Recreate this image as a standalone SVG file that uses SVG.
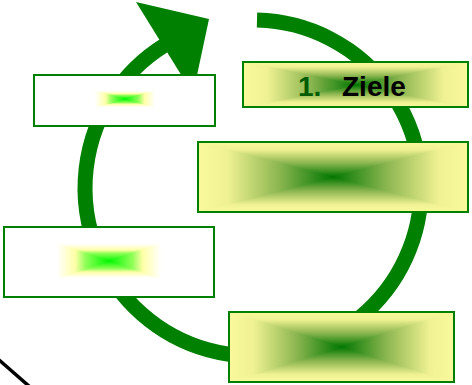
<svg xmlns="http://www.w3.org/2000/svg" width="472" height="385" viewBox="0 0 472 385">
  <defs>
    <!-- rectangular "box" shading built from four triangles: yellow rim to dark green core -->
    <linearGradient id="yT" x1="0" y1="0" x2="0" y2="1"><stop offset="0" stop-color="#fafa9c"/><stop offset="0.22" stop-color="#eff192"/><stop offset="0.6" stop-color="#8cb650"/><stop offset="1" stop-color="#017701"/></linearGradient>
    <linearGradient id="yB" x1="0" y1="1" x2="0" y2="0"><stop offset="0" stop-color="#fafa9c"/><stop offset="0.22" stop-color="#eff192"/><stop offset="0.6" stop-color="#8cb650"/><stop offset="1" stop-color="#017701"/></linearGradient>
    <linearGradient id="yL" x1="0" y1="0" x2="1" y2="0"><stop offset="0" stop-color="#fafa9c"/><stop offset="0.22" stop-color="#eff192"/><stop offset="0.6" stop-color="#8cb650"/><stop offset="1" stop-color="#017701"/></linearGradient>
    <linearGradient id="yR" x1="1" y1="0" x2="0" y2="0"><stop offset="0" stop-color="#fafa9c"/><stop offset="0.22" stop-color="#eff192"/><stop offset="0.6" stop-color="#8cb650"/><stop offset="1" stop-color="#017701"/></linearGradient>
    <!-- small glow inside the white boxes: white rim, yellow, lime core -->
    <linearGradient id="gT" x1="0" y1="0" x2="0" y2="1"><stop offset="0" stop-color="#ffffff"/><stop offset="0.35" stop-color="#ffffa8"/><stop offset="0.55" stop-color="#90ff58"/><stop offset="1" stop-color="#00f800"/></linearGradient>
    <linearGradient id="gB" x1="0" y1="1" x2="0" y2="0"><stop offset="0" stop-color="#ffffff"/><stop offset="0.35" stop-color="#ffffa8"/><stop offset="0.55" stop-color="#90ff58"/><stop offset="1" stop-color="#00f800"/></linearGradient>
    <linearGradient id="gL" x1="0" y1="0" x2="1" y2="0"><stop offset="0" stop-color="#ffffff"/><stop offset="0.35" stop-color="#ffffa8"/><stop offset="0.55" stop-color="#90ff58"/><stop offset="1" stop-color="#00f800"/></linearGradient>
    <linearGradient id="gR" x1="1" y1="0" x2="0" y2="0"><stop offset="0" stop-color="#ffffff"/><stop offset="0.35" stop-color="#ffffa8"/><stop offset="0.55" stop-color="#90ff58"/><stop offset="1" stop-color="#00f800"/></linearGradient>
  </defs>
  <style>
    .frame { fill: none; stroke: #008000; stroke-width: 2; }
    .plain { fill: #ffffff; stroke: #008000; stroke-width: 2; }
    .cycle { fill: none; stroke: #008000; stroke-width: 15; }
    .head { fill: #008000; }
    .t { stroke-width: 1; stroke-linejoin: round; }
    .label { font-family: "Liberation Sans", Arial, sans-serif; font-weight: bold; font-size: 28px; }
  </style>

  <rect width="472" height="385" fill="#ffffff"/>

  <!-- circular cycle arrow -->
  <g id="connectors">
    <path class="cycle" d="M 257 20.05 A 168 168 0 1 1 173 40.3"/>
    <polygon class="head" points="136,2 209,19 193,94"/>
  </g>

  <g id="box-a">
    <rect class="plain" x="34" y="75" width="181" height="51"/>
    <polygon class="t" fill="url(#gT)" stroke="url(#gT)" points="95,91 155,91 125,99"/>
    <polygon class="t" fill="url(#gB)" stroke="url(#gB)" points="95,107 155,107 125,99"/>
    <polygon class="t" fill="url(#gL)" stroke="url(#gL)" points="95,91 95,107 125,99"/>
    <polygon class="t" fill="url(#gR)" stroke="url(#gR)" points="155,91 155,107 125,99"/>
  </g>

  <g id="box-ziele">
    <polygon class="t" fill="url(#yT)" stroke="url(#yT)" points="243,62 468,62 355.5,85"/>
    <polygon class="t" fill="url(#yB)" stroke="url(#yB)" points="243,107 468,107 355.5,85"/>
    <polygon class="t" fill="url(#yL)" stroke="url(#yL)" points="243,62 243,107 355.5,85"/>
    <polygon class="t" fill="url(#yR)" stroke="url(#yR)" points="468,62 468,107 355.5,85"/>
    <rect class="frame" x="243" y="62" width="225" height="45"/>
    <text class="label" y="96"><tspan x="298" fill="#005c00">1.</tspan><tspan x="342" fill="#000000">Ziele</tspan></text>
  </g>

  <g id="box-c">
    <polygon class="t" fill="url(#yT)" stroke="url(#yT)" points="198,142 468,142 333,177"/>
    <polygon class="t" fill="url(#yB)" stroke="url(#yB)" points="198,212 468,212 333,177"/>
    <polygon class="t" fill="url(#yL)" stroke="url(#yL)" points="198,142 198,212 333,177"/>
    <polygon class="t" fill="url(#yR)" stroke="url(#yR)" points="468,142 468,212 333,177"/>
    <rect class="frame" x="198" y="142" width="270" height="70"/>
  </g>

  <g id="box-d">
    <rect class="plain" x="4" y="227" width="210" height="70"/>
    <polygon class="t" fill="url(#gT)" stroke="url(#gT)" points="57,244 161,244 109,261"/>
    <polygon class="t" fill="url(#gB)" stroke="url(#gB)" points="57,278 161,278 109,261"/>
    <polygon class="t" fill="url(#gL)" stroke="url(#gL)" points="57,244 57,278 109,261"/>
    <polygon class="t" fill="url(#gR)" stroke="url(#gR)" points="161,244 161,278 109,261"/>
  </g>

  <g id="box-e">
    <polygon class="t" fill="url(#yT)" stroke="url(#yT)" points="229,312 454,312 341.5,347"/>
    <polygon class="t" fill="url(#yB)" stroke="url(#yB)" points="229,382 454,382 341.5,347"/>
    <polygon class="t" fill="url(#yL)" stroke="url(#yL)" points="229,312 229,382 341.5,347"/>
    <polygon class="t" fill="url(#yR)" stroke="url(#yR)" points="454,312 454,382 341.5,347"/>
    <rect class="frame" x="229" y="312" width="225" height="70"/>
  </g>

  <!-- stray diagonal stroke at lower left -->
  <line x1="-2" y1="359" x2="30" y2="387" stroke="#000000" stroke-width="3.5"/>
</svg>
